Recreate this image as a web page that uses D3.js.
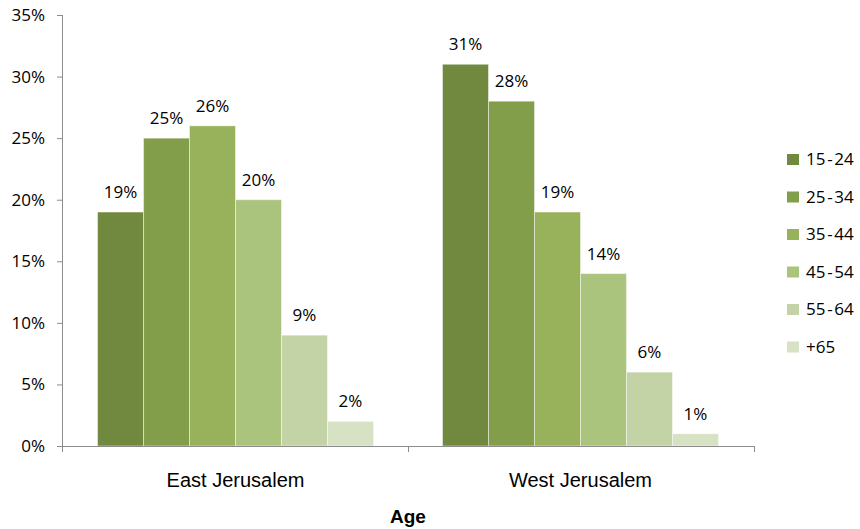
<!DOCTYPE html>
<html><head><meta charset="utf-8">
<script src="https://cdn.jsdelivr.net/npm/d3@7"></script>
<style>body{margin:0;background:#fff}svg{display:block}</style>
</head><body>
<script>
const categories = ["East Jerusalem", "West Jerusalem"];
const ageGroups = ["15-24", "25-34", "35-44", "45-54", "55-64", "+65"];
const eastValues = [19, 25, 26, 20, 9, 2];
const westValues = [31, 28, 19, 14, 6, 1];
const yTicks = [0, 5, 10, 15, 20, 25, 30, 35];
const colors = ["#71893f", "#839e4b", "#97b25a", "#abc47d", "#c3d3a6", "#d7e2c5"];
const xTitle = "Age";

(function () {
const W = 860, H = 529;
const svg = d3.select("body").append("svg").attr("width", W).attr("height", H);
const pLeft = 62, pRight = 754, pTop = 15, pBottom = 446;

const y = d3.scaleLinear().domain([0, 35]).range([pBottom, pTop]);
const x0 = d3.scaleBand().domain(categories).range([pLeft, pRight]).paddingInner(0.2).paddingOuter(0.103);
const x1 = d3.scaleBand().domain(ageGroups).range([0, x0.bandwidth()]);
const color = d3.scaleOrdinal().domain(ageGroups).range(colors);
const seriesByCat = { "East Jerusalem": eastValues, "West Jerusalem": westValues };

const tickFont = "'Open Sans', sans-serif";
const fs = 17;

// y axis
const yAxis = svg.append("g").attr("transform", `translate(${pLeft},0)`)
  .call(d3.axisLeft(y).tickValues(yTicks).tickSize(5).tickPadding(12).tickFormat(d => d + "%"));
yAxis.select(".domain").attr("stroke", "#8c8c8c").attr("d", `M0.5,${pTop}V${pBottom + 6}`);
yAxis.selectAll(".tick line").attr("stroke", "#8c8c8c");
yAxis.selectAll(".tick text").attr("font-family", tickFont).attr("font-size", fs).attr("fill", "#000");

// bars
categories.forEach(cat => {
  const g = svg.append("g").attr("transform", `translate(${x0(cat)},0)`);
  const vals = seriesByCat[cat];
  g.selectAll("rect").data(ageGroups).join("rect")
    .attr("x", d => x1(d))
    .attr("y", (d, i) => y(vals[i]))
    .attr("width", x1.bandwidth())
    .attr("height", (d, i) => pBottom - y(vals[i]))
    .attr("fill", d => color(d))
    .attr("stroke", "rgba(255,255,255,0.45)")
    .attr("stroke-width", 1);
  g.selectAll("text").data(ageGroups).join("text")
    .attr("x", d => x1(d) + x1.bandwidth() / 2)
    .attr("y", (d, i) => y(vals[i]) - 14)
    .attr("text-anchor", "middle")
    .attr("font-family", tickFont).attr("font-size", fs).attr("fill", "#000")
    .text((d, i) => vals[i] + "%");
});

// x axis
const xg = svg.append("g");
xg.append("line").attr("x1", pLeft).attr("x2", pRight).attr("y1", pBottom + 0.5).attr("y2", pBottom + 0.5)
  .attr("stroke", "#8c8c8c");
const bounds = [pLeft, (x0(categories[0]) + x0.bandwidth() + x0(categories[1])) / 2, pRight];
xg.selectAll("line.tk").data(bounds).join("line").attr("class", "tk")
  .attr("x1", d => d + 0.5).attr("x2", d => d + 0.5).attr("y1", pBottom).attr("y2", pBottom + 6)
  .attr("stroke", "#8c8c8c");
xg.selectAll("text").data(categories).join("text")
  .attr("x", d => x0(d) + x0.bandwidth() / 2)
  .attr("y", 487)
  .attr("text-anchor", "middle")
  .attr("font-family", "'Liberation Sans', Arial, sans-serif").attr("font-size", 20).attr("fill", "#000")
  .text(d => d);

svg.append("text").attr("x", 408).attr("y", 523).attr("text-anchor", "middle")
  .attr("font-family", "'Liberation Sans', Arial, sans-serif").attr("font-size", 19)
  .attr("font-weight", "bold").text(xTitle);

// legend
const lg = svg.append("g").attr("transform", "translate(787,154)");
const li = lg.selectAll("g").data(ageGroups).join("g")
  .attr("transform", (d, i) => `translate(0,${i * 37.5})`);
li.append("rect").attr("width", 12).attr("height", 11).attr("fill", d => color(d));
li.append("text").attr("x", 19).attr("y", 11).attr("font-family", tickFont).attr("font-size", fs)
  .attr("fill", "#000").text(d => d.replace("-", "\u200A-\u200A"));
})();
</script>
</body></html>
